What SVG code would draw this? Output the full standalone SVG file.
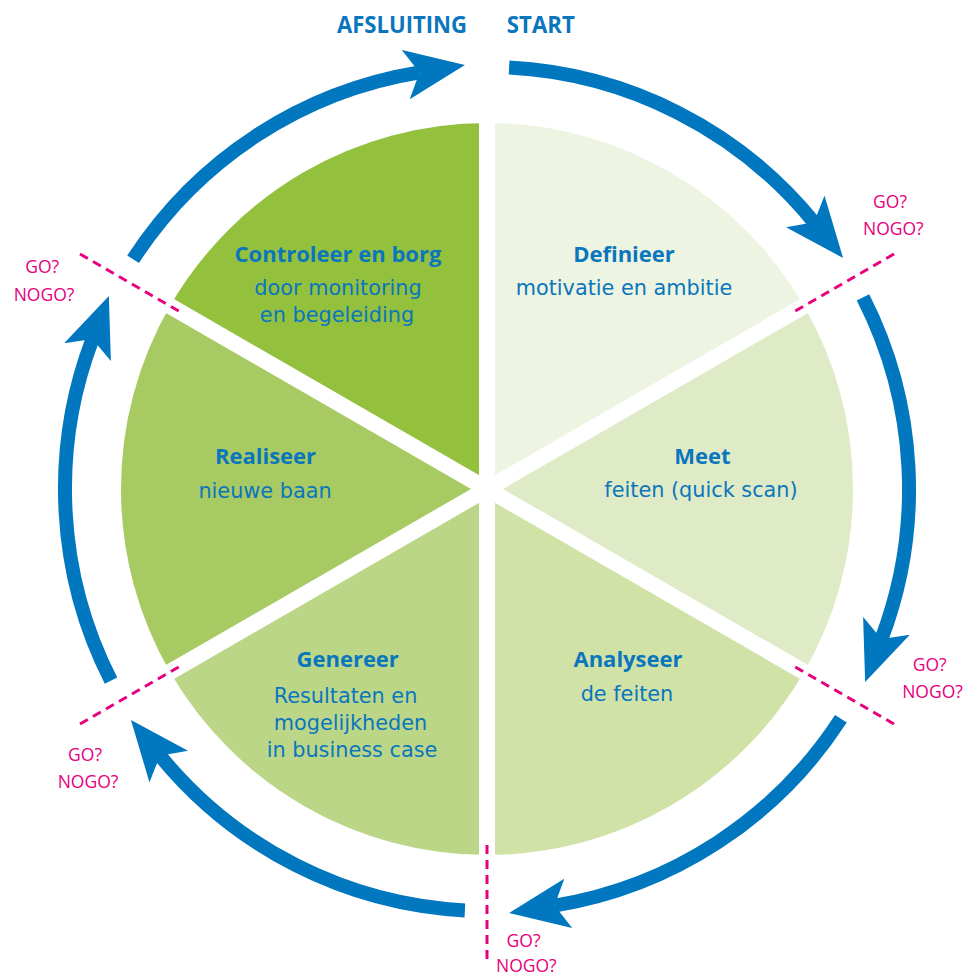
<svg xmlns="http://www.w3.org/2000/svg" width="966" height="977" viewBox="0 0 966 977">
<style>
.t{font-family:"Open Sans","Noto Sans",sans-serif;fill:#0a76bd;text-anchor:middle}
.b{font-weight:bold;font-size:22px}
.r{font-family:"DejaVu Sans",sans-serif;font-size:20.8px}
.h{font-weight:bold;font-size:24px}
.g{font-family:"Open Sans","Noto Sans",sans-serif;fill:#e6007e;font-size:17.5px;text-anchor:middle}
.arc{fill:none;stroke:#0077bf;stroke-width:14;marker-end:url(#ah)}
.dash{stroke:#e6007e;stroke-width:3;stroke-dasharray:9 6;fill:none}
.sep{stroke:#fff;stroke-width:16}
</style>
<defs>
<marker id="ah" viewBox="0 0 60 50" refX="14" refY="25" markerWidth="60" markerHeight="50" markerUnits="userSpaceOnUse" orient="auto">
<path d="M60,25 L0,0 L14,25 L0,50 Z" fill="#0077bf"/>
</marker>
</defs>
<rect width="966" height="977" fill="#fff"/>
<g id="definieer">
<path d="M487,489 L487,123 A366,366 0 0 1 803.97,306 Z" fill="#edf4e1"/>
<text class="t b" x="624" y="262">Definieer</text>
<text class="t r" x="624" y="294.5">motivatie en ambitie</text>
</g>
<g id="meet">
<path d="M487,489 L803.97,306 A366,366 0 0 1 803.97,672 Z" fill="#dfebc6"/>
<text class="t b" x="702.5" y="463.5">Meet</text>
<text class="t r" x="701" y="497">feiten (quick scan)</text>
</g>
<g id="analyseer">
<path d="M487,489 L803.97,672 A366,366 0 0 1 487,855 Z" fill="#d0e2a6"/>
<text class="t b" x="628" y="667">Analyseer</text>
<text class="t r" x="627" y="701">de feiten</text>
</g>
<g id="genereer">
<path d="M487,489 L487,855 A366,366 0 0 1 170.03,672 Z" fill="#bcd688"/>
<text class="t b" x="347.7" y="667">Genereer</text>
<text class="t r" x="345.5" y="703">Resultaten en</text>
<text class="t r" x="350.5" y="729.5">mogelijkheden</text>
<text class="t r" x="352" y="757">in business case</text>
</g>
<g id="realiseer">
<path d="M487,489 L170.03,672 A366,366 0 0 1 170.03,306 Z" fill="#a8ca62"/>
<text class="t b" x="265.5" y="463.5">Realiseer</text>
<text class="t r" x="265" y="498">nieuwe baan</text>
</g>
<g id="controleer">
<path d="M487,489 L170.03,306 A366,366 0 0 1 487,123 Z" fill="#93c13e"/>
<text class="t b" x="338" y="262">Controleer en borg</text>
<text class="t r" x="338" y="295">door monitoring</text>
<text class="t r" x="337" y="322">en begeleiding</text>
</g>
<g id="separators">
<line class="sep" x1="487" y1="115" x2="487" y2="863"/>
<line class="sep" x1="163" y1="302" x2="811" y2="676"/>
<line class="sep" x1="163" y1="676" x2="811" y2="302"/>
</g>
<g id="connectors">
<path class="arc" d="M509.1,67.6 A422,422 0 0 1 814.0,222.3"/>
<path class="arc" d="M863.0,297.4 A422,422 0 0 1 881.5,638.9"/>
<path class="arc" d="M840.9,718.8 A422,422 0 0 1 554.5,905.6"/>
<path class="arc" d="M464.9,910.4 A422,422 0 0 1 160.0,755.7"/>
<path class="arc" d="M111.0,680.6 A422,422 0 0 1 92.5,339.1"/>
<path class="arc" d="M133.1,259.2 A422,422 0 0 1 419.5,72.4"/>
</g>
<g id="gates">
<line class="dash" x1="795.3" y1="311" x2="899.2" y2="251"/>
<line class="dash" x1="795.3" y1="667" x2="899.2" y2="727"/>
<line class="dash" x1="487" y1="845" x2="487" y2="965"/>
<line class="dash" x1="178.7" y1="667" x2="74.8" y2="727"/>
<line class="dash" x1="178.7" y1="311" x2="74.8" y2="251"/>
<text class="g" x="890" y="207.7">GO?</text>
<text class="g" x="893.3" y="235">NOGO?</text>
<text class="g" x="929.7" y="671">GO?</text>
<text class="g" x="932.5" y="698.3">NOGO?</text>
<text class="g" x="523.5" y="946.5">GO?</text>
<text class="g" x="526.3" y="971.5">NOGO?</text>
<text class="g" x="85" y="760.7">GO?</text>
<text class="g" x="88" y="788.3">NOGO?</text>
<text class="g" x="42.2" y="272.7">GO?</text>
<text class="g" x="44" y="300.7">NOGO?</text>
</g>
<g id="labels">
<text class="t h" x="402" y="33.3" textLength="130" lengthAdjust="spacingAndGlyphs">AFSLUITING</text>
<text class="t h" x="540.8" y="33.3" textLength="68" lengthAdjust="spacingAndGlyphs">START</text>
</g>
</svg>
